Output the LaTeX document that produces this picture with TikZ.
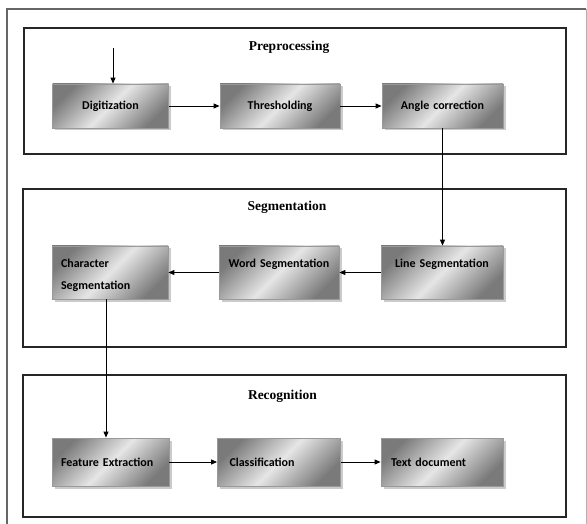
\documentclass[tikz,border=0pt]{standalone}
\usepackage{fontspec}
\setmainfont{Liberation Serif}
\newfontfamily\boxfont{Carlito}
\usetikzlibrary{arrows.meta,shadows}
\begin{document}
\begin{tikzpicture}[x=1pt,y=-1pt,
  outer/.style={draw=black!60, line width=1.5pt},
  frame/.style={draw=black!85, line width=1.2pt},
  title/.style={font=\fontsize{13.5}{15}\selectfont\bfseries, inner sep=0pt},
  box/.style={draw=black!40, line width=0.8pt,
    left color=black!52, right color=black!52, middle color=black!10, shading angle=45,
    drop shadow={shadow xshift=2.5pt, shadow yshift=-2.5pt, fill=black!25, opacity=0.8},
    font=\boxfont\bfseries\fontsize{12}{14}\selectfont,
    inner xsep=9pt, inner ysep=0pt},
  rowA/.style={box, minimum height=44pt, align=center},
  rowB/.style={box, minimum height=53pt, text height=21pt, text depth=32pt},
  rowC/.style={box, minimum height=48pt, align=left},
  arr/.style={-{Triangle[length=6pt,width=5pt]}, line width=0.9pt}
]
\useasboundingbox (0,0) rectangle (587,524);
\fill[white] (0,0) rectangle (587,524);
% outer frame
\draw[outer] (7,540) -- (7,9) -- (586,9);
\draw[draw=black!30, line width=1pt] (586,9) -- (586,540);
% group frames
\draw[frame] (24,28) rectangle (566,154);
\draw[frame] (23,189) rectangle (566,347);
\draw[frame] (23,375) rectangle (566,517);
% titles
\node[title] (tpre) at (289,47) {Preprocessing};
\node[title] (tseg) at (287,207) {Segmentation};
\node[title] (trec) at (282.5,396) {Recognition};
% row 1
\node[rowA, text width=98pt] (dig) at (110.5,106) {Digitization};
\node[rowA, text width=102pt] (thr) at (280,106) {Thresholding};
\node[rowA, text width=103pt] (ang) at (442.5,106) {Angle correction};
% row 2
\node[rowB, text width=98pt, align=left] (chr) at (110,272.5) {Character\\[9pt]Segmentation};
\node[rowB, text width=102pt, align=center] (wrd) at (279,272.5) {Word Segmentation};
\node[rowB, text width=104pt, align=center] (lin) at (442,272.5) {Line Segmentation};
% row 3
\node[rowC, text width=99pt] (fea) at (110.5,462) {Feature Extraction};
\node[rowC, text width=99pt, inner xsep=12pt] (cls) at (279,462) {Classification};
\node[rowC, text width=102pt, inner xsep=10pt] (txt) at (442,462) {Text document};
% connectors
\coordinate (in) at (113,48);
\draw[arr] (in) -- (in |- dig.north);
\draw[arr] (dig.east) -- (thr.west);
\draw[arr] (thr.east) -- (ang.west);
\draw[arr] (ang.south) -- (ang.south |- lin.north);
\draw[arr] (lin.west) -- (wrd.east);
\draw[arr] (wrd.west) -- (chr.east);
\draw[arr] ([xshift=-4pt]chr.south) -- ([xshift=-4pt]chr.south |- fea.north);
\draw[arr] (fea.east) -- (cls.west);
\draw[arr] (cls.east) -- (txt.west);
\end{tikzpicture}
\end{document}
